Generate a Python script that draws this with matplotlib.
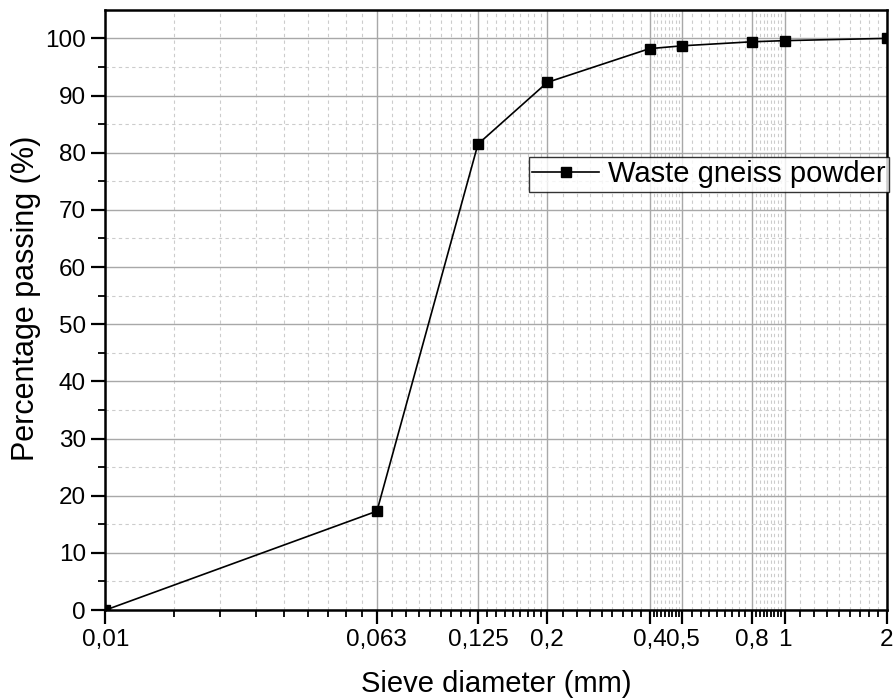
import matplotlib
matplotlib.use('Agg')
import matplotlib.pyplot as plt
import matplotlib.ticker as mticker
import numpy as np

# sieve data
sieve_mm = [0.01, 0.063, 0.125, 0.2, 0.4, 0.5, 0.8, 1, 2]
passing = [0, 17.3, 81.5, 92.3, 98.2, 98.7, 99.4, 99.6, 100]
tick_vals = [0.01, 0.063, 0.125, 0.2, 0.4, 0.5, 0.8, 1, 2]
tick_labels = ['0,01', '0,063', '0,125', '0,2', '0,4', '0,5', '0,8', '1', '2']

plt.rcParams['font.family'] = ['Liberation Sans', 'DejaVu Sans']

fig = plt.figure(figsize=(8.94, 6.98), dpi=100)
ax = fig.add_axes([0.118, 0.126, 0.874, 0.860])

ax.plot(sieve_mm, passing, color='black', lw=1.2, marker='s', ms=7.5,
        label='Waste gneiss powder', zorder=5)

ax.set_xscale('log')
ax.set_xlim(0.01, 2)
ax.set_ylim(0, 105)

# 8 minor ticks spaced linearly inside each major interval (Origin style)
minor = []
for a, b in zip(tick_vals[:-1], tick_vals[1:]):
    minor.extend(np.linspace(a, b, 10)[1:-1])
ax.xaxis.set_major_locator(mticker.FixedLocator(tick_vals))
ax.xaxis.set_major_formatter(mticker.FixedFormatter(tick_labels))
ax.xaxis.set_minor_locator(mticker.FixedLocator(minor))
ax.xaxis.set_minor_formatter(mticker.NullFormatter())
ax.set_yticks(np.arange(0, 101, 10))
ax.set_yticks(np.arange(5, 105, 10), minor=True)

ax.grid(which='major', color='#a8a8a8', lw=1.0)
ax.grid(which='minor', color='#cccccc', lw=0.8, ls=(0, (3, 3)))
ax.set_axisbelow(True)

for s in ax.spines.values():
    s.set_linewidth(1.8)
ax.tick_params(which='major', direction='out', length=10, width=1.6,
               labelsize=17.5, pad=4, top=False, right=False)
ax.tick_params(which='minor', direction='out', length=5, width=1.3,
               top=False, right=False)

ax.set_xlabel('Sieve diameter (mm)', fontsize=21)
ax.set_ylabel('Percentage passing (%)', fontsize=22)
ax.xaxis.set_label_coords(0.5, -0.1)
ax.yaxis.set_label_coords(-0.082, 0.52)

leg = ax.legend(loc='upper right', bbox_to_anchor=(1.003, 0.755), fontsize=21,
                frameon=True, fancybox=False, edgecolor='black',
                handlelength=2.3, borderpad=0.12, handletextpad=0.3,
                borderaxespad=0)
leg.get_frame().set_linewidth(1.0)

fig.savefig('out.png', dpi=100)
